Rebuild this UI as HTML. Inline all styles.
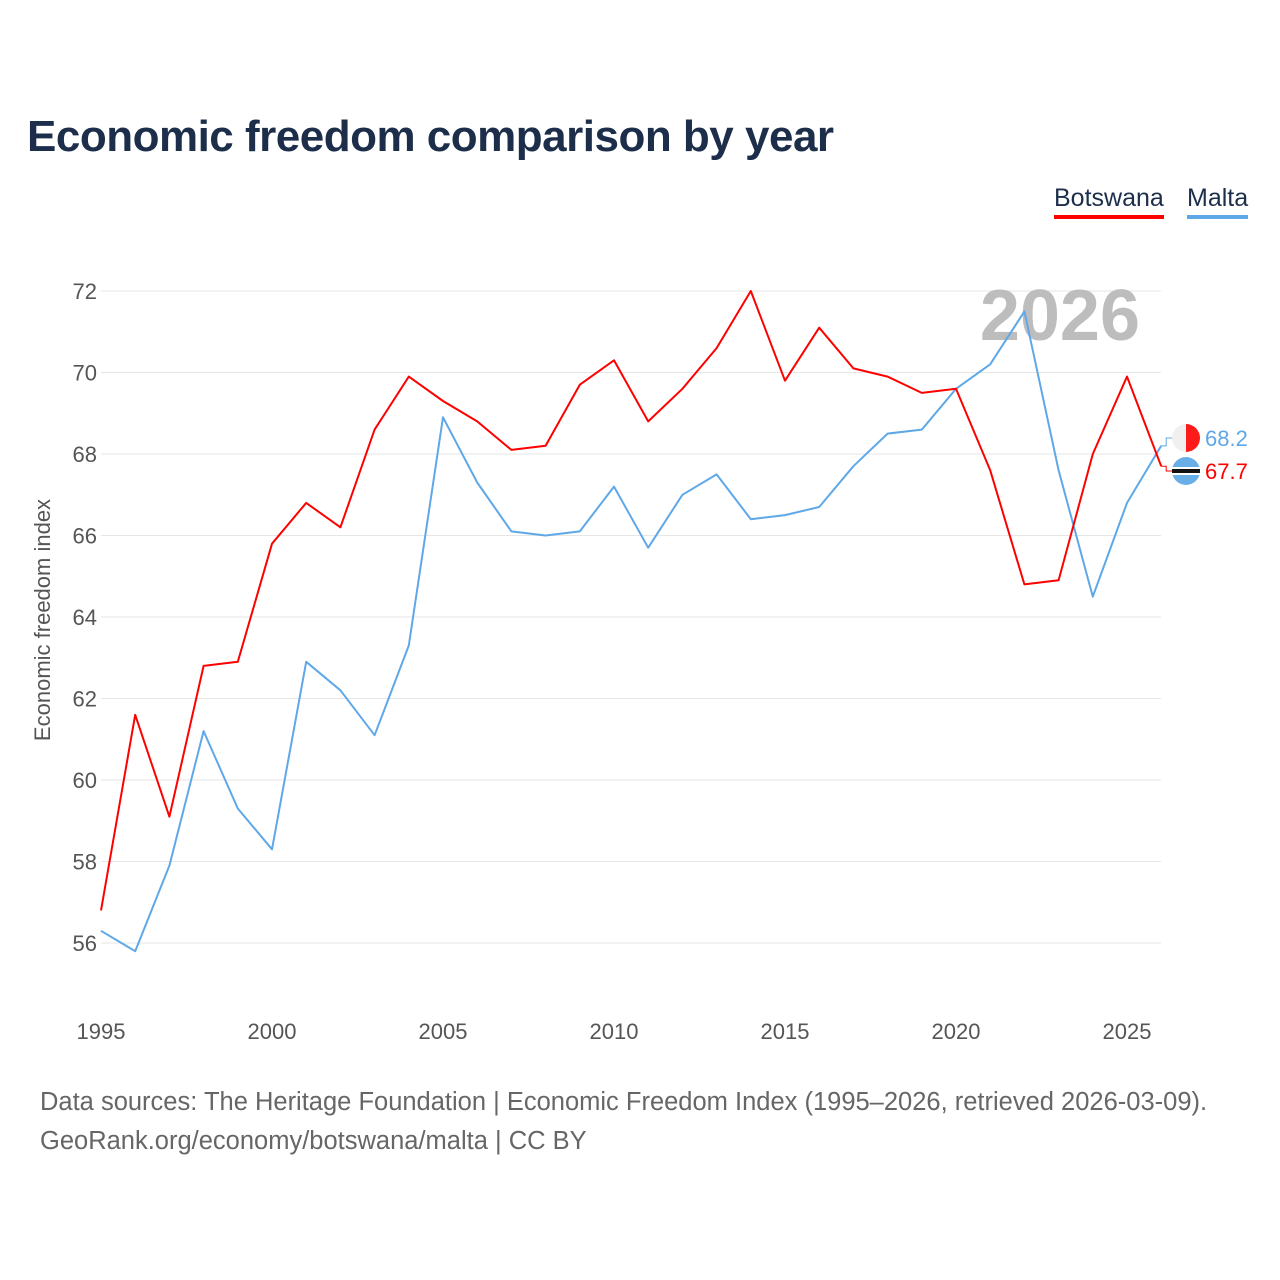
<!DOCTYPE html>
<html><head><meta charset="utf-8">
<style>
html,body{margin:0;padding:0;background:#fff;}
body{width:1280px;height:1280px;position:relative;font-family:"Liberation Sans",sans-serif;overflow:hidden;}
#title{position:absolute;left:27px;top:112px;font-size:44px;font-weight:bold;color:#1c2e4a;letter-spacing:-0.5px;}
.legend{position:absolute;top:184px;font-size:25px;color:#1c2e4a;padding-bottom:2px;}
#footer{position:absolute;left:40px;top:1083px;font-size:25.5px;color:#666;line-height:39px;}
svg{position:absolute;left:0;top:0;}
</style></head>
<body>
<div id="title">Economic freedom comparison by year</div>
<div class="legend" style="left:1054px;border-bottom:4px solid #ff0000;">Botswana</div>
<div class="legend" style="left:1187px;border-bottom:4px solid #5fa8e8;">Malta</div>
<svg id="chart" width="1280" height="1280"></svg>
<div id="footer">Data sources: The Heritage Foundation | Economic Freedom Index (1995–2026, retrieved 2026-03-09).<br>GeoRank.org/economy/botswana/malta | CC BY</div>
<script>
const years = [1995,1996,1997,1998,1999,2000,2001,2002,2003,2004,2005,2006,2007,2008,2009,2010,2011,2012,2013,2014,2015,2016,2017,2018,2019,2020,2021,2022,2023,2024,2025,2026];
const botswana = [56.8,61.6,59.1,62.8,62.9,65.8,66.8,66.2,68.6,69.9,69.3,68.8,68.1,68.2,69.7,70.3,68.8,69.6,70.6,72.0,69.8,71.1,70.1,69.9,69.5,69.6,67.6,64.8,64.9,68.0,69.9,67.7];
const malta = [56.3,55.8,57.9,61.2,59.3,58.3,62.9,62.2,61.1,63.3,68.9,67.3,66.1,66.0,66.1,67.2,65.7,67.0,67.5,66.4,66.5,66.7,67.7,68.5,68.6,69.6,70.2,71.5,67.6,64.5,66.8,68.2];
const yTicks = [56,58,60,62,64,66,68,70,72];
const xTicks = [1995,2000,2005,2010,2015,2020,2025];

const NS="http://www.w3.org/2000/svg";
const svg=document.getElementById('chart');
function xs(y){return 101+(y-1995)*(1127-101)/30;}
function ys(v){return 943-(v-56)*(943-291)/16;}
function mk(tag,attrs,parent){const e=document.createElementNS(NS,tag);for(const k in attrs)e.setAttribute(k,attrs[k]);(parent||svg).appendChild(e);return e;}

yTicks.forEach(t=>{
  const g=mk('line',{x1:101,x2:1161,y1:ys(t),y2:ys(t),stroke:'#e6e6e6','stroke-width':1});
  
  
  const l=mk('text',{x:97,y:ys(t)+8,'text-anchor':'end','font-size':22,fill:'#555'});
  l.textContent=t;
  
  
});
xTicks.forEach(t=>{
  const l=mk('text',{x:xs(t),y:1039,'text-anchor':'middle','font-size':22,fill:'#555'});
  l.textContent=t;
  
  
});
const yt=mk('text',{x:0,y:0,transform:'translate(50,620) rotate(-90)','text-anchor':'middle','font-size':22,fill:'#555'});
yt.textContent='Economic freedom index';



const wm=mk('text',{x:1140,y:340,'text-anchor':'end','font-size':72,'font-weight':'bold',fill:'#bdbdbd'});
wm.textContent='2026';



function line(vals,color,name){
  const d=vals.map((v,i)=>(i?'L':'M')+xs(years[i]).toFixed(1)+' '+ys(v).toFixed(1)).join(' ');
  const p=mk('path',{d:d,fill:'none',stroke:color,'stroke-width':2,'stroke-linejoin':'round'});
  
  
}
line(malta,'#5fa8e8','malta-line');
line(botswana,'#ff0000','botswana-line');

function endLabel(v,color,labelY,name,flag){
  const x0=xs(years[years.length-1]);
  const c=mk('path',{d:`M${x0} ${ys(v)} L${x0+5} ${ys(v)} L${x0+5} ${labelY} L${x0+12} ${labelY}`,fill:'none',stroke:color,'stroke-width':1});
  
  
  const g=mk('g',{});
  
  
  const cx=1186;
  if(flag==='mt'){
    mk('circle',{cx:cx,cy:labelY,r:14,fill:'#f0f0f0'},g);
    mk('path',{d:`M${cx} ${labelY-14} A14 14 0 0 1 ${cx} ${labelY+14} Z`,fill:'#ff1a1a'},g);
  } else {
    mk('circle',{cx:cx,cy:labelY,r:14,fill:'#6aaee8'},g);
    mk('rect',{x:cx-14,y:labelY-4,width:28,height:8,fill:'#fff'},g);
    mk('rect',{x:cx-14,y:labelY-2,width:28,height:4,fill:'#111'},g);
  }
  const t=mk('text',{x:1205,y:labelY+8,'font-size':22,fill:color});
  t.textContent=v.toFixed(1);
  
  
}
endLabel(malta[malta.length-1],'#5fa8e8',438,'malta-end','mt');
endLabel(botswana[botswana.length-1],'#ff0000',471,'botswana-end','bw');
</script>
</body></html>
